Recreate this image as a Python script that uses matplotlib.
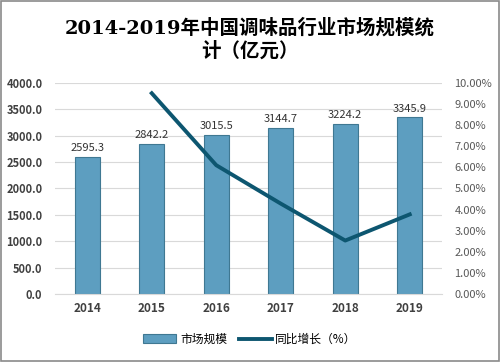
import numpy as np
import matplotlib.pyplot as plt
from matplotlib.patches import Rectangle

plt.rcParams['font.family'] = ['Noto Sans CJK SC', 'DejaVu Sans']

years = ['2014', '2015', '2016', '2017', '2018', '2019']
market = [2595.3, 2842.2, 3015.5, 3144.7, 3224.2, 3345.9]
growth = [None, 9.51, 6.10, 4.28, 2.53, 3.77]

bar_color = '#5d9ec0'
line_color = '#0d5670'

fig = plt.figure(figsize=(5.0, 3.62), dpi=100)
fig.patches.append(Rectangle((0.002, 0.003), 0.996, 0.994, transform=fig.transFigure,
                             fill=False, edgecolor='#8a8a8a', linewidth=1.2))

ax = fig.add_axes([0.11, 0.188, 0.774, 0.583])
x = np.arange(len(years))
bars = ax.bar(x, market, width=0.39, color=bar_color, edgecolor='#3f7892',
              linewidth=0.8, zorder=2, label='市场规模')
for xi, v in zip(x, market):
    ax.text(xi, v + 70, f'{v:.1f}', ha='center', va='bottom', fontsize=8,
            color='#333333')

ax.set_xlim(-0.5, len(years) - 0.5)
ax.set_ylim(0, 4000)
ax.set_yticks(np.arange(0, 4001, 500))
ax.set_yticklabels([f'{v:.1f}' for v in np.arange(0, 4001, 500)], fontsize=8,
                   color='#404040', fontweight='bold')
ax.set_xticks(x)
ax.set_xticklabels(years, fontsize=8.5, fontweight='bold', color='#404040')
ax.grid(axis='y', color='#d9d9d9', linewidth=0.8, zorder=0)
for s in ['top', 'right', 'left']:
    ax.spines[s].set_visible(False)
ax.spines['bottom'].set_color('#d9d9d9')
ax.tick_params(axis='both', length=0, pad=6)
ax.tick_params(axis='y', pad=9)

ax2 = ax.twinx()
gx = [xi for xi, g in zip(x, growth) if g is not None]
gy = [g for g in growth if g is not None]
line, = ax2.plot(gx, gy, color=line_color, linewidth=2.8, zorder=3,
                 label='同比增长（%）')
ax2.set_ylim(0, 10)
ax2.set_yticks(np.arange(0, 10.01, 1))
ax2.set_yticklabels([f'{v:.2f}%' for v in np.arange(0, 10.01, 1)], fontsize=8,
                    color='#595959')
for s in ax2.spines.values():
    s.set_visible(False)
ax2.tick_params(axis='y', length=0, pad=9)

fig.legend([bars, line], ['市场规模', '同比增长（%）'], loc='center',
           bbox_to_anchor=(0.5, 0.063), ncol=2, frameon=False, fontsize=8.5,
           handlelength=2.8, columnspacing=1.0, handletextpad=0.3)

fig.text(0.5, 0.922, '2014-2019年中国调味品行业市场规模统', ha='center', va='center',
         fontsize=14, fontweight='bold', family=['DejaVu Serif', 'Noto Sans CJK SC'])
fig.text(0.5, 0.86, '计（亿元）', ha='center', va='center',
         fontsize=14, fontweight='bold', family=['DejaVu Serif', 'Noto Sans CJK SC'])

fig.savefig('out.png', dpi=100)
